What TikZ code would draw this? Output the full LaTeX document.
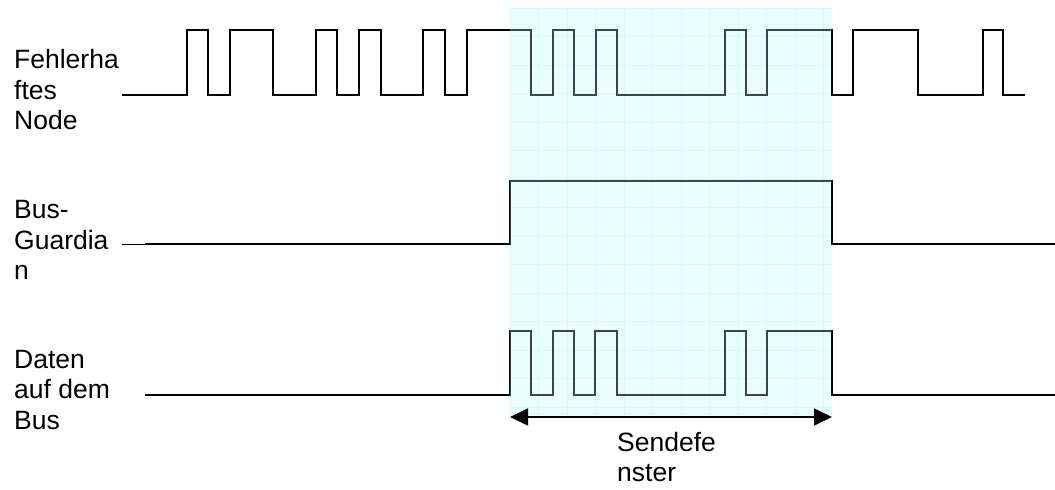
\documentclass[tikz,border=0pt]{standalone}
\usepackage{fontspec}
\setmainfont{Liberation Sans}
\usetikzlibrary{arrows.meta}
\definecolor{winfill}{RGB}{232,253,253}
\definecolor{wingrid}{RGB}{218,248,248}
\definecolor{wininline}{RGB}{60,72,72}
\tikzset{
  wave/.style={line width=1.6pt, line join=miter},
  lbl/.style={anchor=west, inner sep=0pt, align=left, font=\fontsize{26.5}{30.5}\selectfont},
  span/.style={line width=1.6pt, {Triangle[length=18pt,width=17pt]}-{Triangle[length=18pt,width=17pt]}}
}
\begin{document}
\begin{tikzpicture}[x=1pt,y=-1pt]
\useasboundingbox (0,0) rectangle (1055,490);
% window
\coordinate (wl) at (510,417);
\coordinate (wr) at (832,417);
\fill[winfill] (510,8) rectangle (832,415);
\begin{scope}
\clip (510,8) rectangle (832,415);
\draw[wingrid, line width=0.6pt, step=28.5pt, shift={(510,8)}] (0,0) grid (322,407);
\end{scope}
% waveforms
\def\topwave{(122,95) -- (187,95) -- (187,30) -- (208,30) -- (208,95) -- (230,95) -- (230,30) -- (273,30) -- (273,95) -- (316,95) -- (316,30) -- (337,30) -- (337,95) -- (359,95) -- (359,30) -- (381,30) -- (381,95) -- (423,95) -- (423,30) -- (445,30) -- (445,95) -- (467,95) -- (467,30) -- (531,30) -- (531,95) -- (553,95) -- (553,30) -- (574,30) -- (574,95) -- (596,95) -- (596,30) -- (617,30) -- (617,95) -- (725,95) -- (725,30) -- (746,30) -- (746,95) -- (767,95) -- (767,30) -- (832,30) -- (832,95) -- (853,95) -- (853,30) -- (918,30) -- (918,95) -- (983,95) -- (983,30) -- (1003,30) -- (1003,95) -- (1025,95)}
\def\midwave{(145,244) -- (510,244) -- (510,181) -- (832,181) -- (832,244) -- (1055,244)}
\def\botwave{(145,395) -- (510,395) -- (510,331) -- (531,331) -- (531,395) -- (553,395) -- (553,331) -- (574,331) -- (574,395) -- (595,395) -- (595,331) -- (617,331) -- (617,395) -- (725,395) -- (725,331) -- (746,331) -- (746,395) -- (767,395) -- (767,331) -- (832,331) -- (832,395) -- (1055,395)}
\draw[wave] \topwave;
\draw[wave] \midwave;
\draw[line width=1pt] (122,244) -- (145,244);
\draw[wave] \botwave;
\begin{scope}
\clip (510,8) rectangle (831,415);
\draw[wave, wininline] \topwave;
\draw[wave, wininline] \midwave;
\draw[wave, wininline] \botwave;
\end{scope}
% labels
\node[lbl] (fn) at (14,90) {Fehlerha\\ftes\\Node};
\node[lbl] (bg) at (14,240) {Bus-\\Guardia\\n};
\node[lbl] (db) at (14,390) {Daten\\auf dem\\Bus};
\draw[span] (wl) -- (wr);
\node[lbl] (sf) at (617,457) {Sendefe\\nster};
\end{tikzpicture}
\end{document}
